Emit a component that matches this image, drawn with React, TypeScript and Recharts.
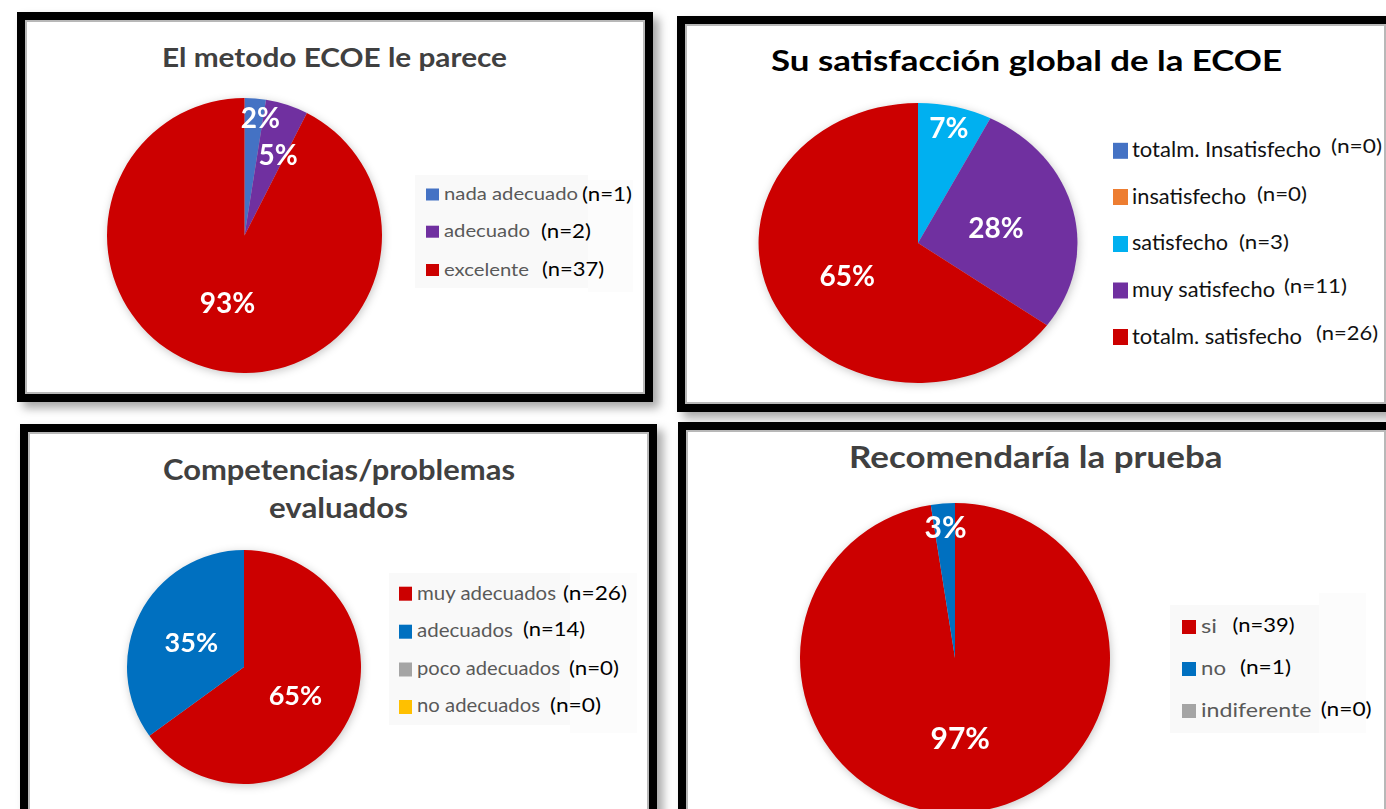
import React from 'react';
import { PieChart, Pie, Cell } from 'recharts';

// ---------- DATA ----------
// Panel 1: El metodo ECOE le parece
const metodoCategories = ['nada adecuado', 'adecuado', 'excelente'];
const metodoCounts = [1, 2, 37];
const metodoPercentLabels = ['2%', '5%', '93%'];
const metodoColors = ['#4472C4', '#7030A0', '#CC0000'];

// Panel 2: Su satisfacción global de la ECOE
const satisfaccionCategories = ['totalm. Insatisfecho', 'insatisfecho', 'satisfecho', 'muy satisfecho', 'totalm. satisfecho'];
const satisfaccionCounts = [0, 0, 3, 11, 26];
const satisfaccionPercentLabels = ['', '', '7%', '28%', '65%'];
const satisfaccionColors = ['#4472C4', '#ED7D31', '#00B0F0', '#7030A0', '#CC0000'];

// Panel 3: Competencias/problemas evaluados
const competenciasCategories = ['muy adecuados', 'adecuados', 'poco adecuados', 'no adecuados'];
const competenciasCounts = [26, 14, 0, 0];
const competenciasPercentLabels = ['65%', '35%', '', ''];
const competenciasColors = ['#CC0000', '#0070C0', '#A5A5A5', '#FFC000'];

// Panel 4: Recomendaría la prueba
const recomendariaCategories = ['si', 'no', 'indiferente'];
const recomendariaCounts = [39, 1, 0];
const recomendariaPercentLabels = ['97%', '3%', ''];
const recomendariaColors = ['#CC0000', '#0070C0', '#A5A5A5'];

// ---------- LAYOUT / STYLE ----------
const FONT = 'Lato, "Open Sans", "DejaVu Sans", sans-serif';

const panels = [
  {
    key: 'metodo',
    categories: metodoCategories,
    counts: metodoCounts,
    labels: metodoPercentLabels,
    colors: metodoColors,
    frame: { left: 17, top: 12, width: 636, height: 390 },
    pie: { cx: 244, cy: 235.5, r: 137.5, sx: 1 },
    labelFont: 28,
    labelFrac: [0.86, 0.634, 0.506],
    labelTurn: [3.25, 4.6, 0.6],
    titleColor: '#404040',
    title: [{ text: 'El metodo ECOE le parece', x: 162, y: 67, size: 26.5, width: 345 }],
    legend: {
      squareX: 426, squareW: 13, squareH: 12, squareCy: [194.5, 231.7, 270],
      labelX: 444, labelBase: [200, 237.3, 275.7], labelW: [134, 86, 85], labelSize: 18, labelColor: '#595959',
      nX: [582, 541, 542], nW: [50, 50, 62], nBase: [200.5, 237.5, 276], nSize: 19, nColor: '#000',
      bg: [
        { x: 415, y: 175, w: 173, h: 113, fill: '#f9f9f9' },
        { x: 588, y: 180, w: 45, h: 112, fill: '#fcfcfc' },
      ],
    },
  },
  {
    key: 'satisfaccion',
    categories: satisfaccionCategories,
    counts: satisfaccionCounts,
    labels: satisfaccionPercentLabels,
    colors: satisfaccionColors,
    frame: { left: 677, top: 16, width: 717, height: 396 },
    pie: { cx: 917.5, cy: 243, r: 140, sx: 1.139 },
    labelFont: 28,
    labelFrac: [0.5, 0.5, 0.844, 0.5, 0.503],
    labelTurn: [0, 0, -0.2, 1.2, -1],
    titleColor: '#000',
    title: [{ text: 'Su satisfacción global de la ECOE', x: 771, y: 70.5, size: 29, width: 511 }],
    legend: {
      squareX: 1113, squareW: 15, squareH: 16, squareCy: [150.8, 197, 244, 290.5, 337],
      labelX: 1132, labelBase: [157.3, 204, 250, 297.3, 344], labelW: [189, 114, 96, 143, 170], labelSize: 21, labelColor: '#111',
      nX: [1331, 1257, 1239, 1284, 1316], nW: [51, 50, 50, 63, 62], nBase: [153, 200.5, 249, 293, 339.5], nSize: 19, nColor: '#111',
      bg: [],
    },
  },
  {
    key: 'competencias',
    categories: competenciasCategories,
    counts: competenciasCounts,
    labels: competenciasPercentLabels,
    colors: competenciasColors,
    frame: { left: 20, top: 424, width: 637, height: 420 },
    pie: { cx: 243.5, cy: 667, r: 117, sx: 1 },
    labelFont: 27,
    labelFrac: [0.5, 0.496, 0.5, 0.5],
    labelTurn: [1.5, -2.2, 0, 0],
    titleColor: '#404040',
    title: [
      { text: 'Competencias/problemas', x: 163, y: 480, size: 28, width: 352 },
      { text: 'evaluados', x: 269, y: 518.3, size: 28, width: 139 },
    ],
    legend: {
      squareX: 399, squareW: 13, squareH: 14, squareCy: [593.7, 631.7, 669.5, 707],
      labelX: 417, labelBase: [600, 637.3, 675, 712.3], labelW: [139, 96, 143, 123], labelSize: 19, labelColor: '#595959',
      nX: [563, 523, 569, 550], nW: [64, 62, 50, 51], nBase: [599.5, 636, 674.5, 712], nSize: 19.5, nColor: '#000',
      bg: [
        { x: 389, y: 573, w: 181, h: 152, fill: '#f9f9f9' },
        { x: 570, y: 573, w: 67, h: 160, fill: '#fcfcfc' },
      ],
    },
  },
  {
    key: 'recomendaria',
    categories: recomendariaCategories,
    counts: recomendariaCounts,
    labels: recomendariaPercentLabels,
    colors: recomendariaColors,
    frame: { left: 678, top: 422, width: 716, height: 420 },
    pie: { cx: 955.4, cy: 658, r: 155, sx: 1 },
    labelFont: 30,
    labelFrac: [0.517, 0.847, 0.5],
    labelTurn: [0.8, 0.4, 0],
    titleColor: '#404040',
    title: [{ text: 'Recomendaría la prueba', x: 849, y: 468, size: 30, width: 373.5 }],
    legend: {
      squareX: 1182, squareW: 14, squareH: 14, squareCy: [627, 669, 711],
      labelX: 1201, labelBase: [633.3, 675, 717.3], labelW: [16, 25, 110.5], labelSize: 20, labelColor: '#595959',
      nX: [1232.5, 1240, 1320.7], nW: [62, 51, 51], nBase: [632, 674, 716], nSize: 20, nColor: '#000',
      bg: [
        { x: 1170, y: 605, w: 149, h: 128, fill: '#f9f9f9' },
        { x: 1319, y: 593, w: 47, h: 140, fill: '#fcfcfc' },
      ],
    },
  },
];

type PanelCfg = typeof panels[number];

function Frame({ f }: { f: PanelCfg['frame'] }) {
  return (
    <div
      style={{
        position: 'absolute',
        left: f.left,
        top: f.top,
        width: f.width,
        height: f.height,
        boxSizing: 'border-box',
        border: '8px solid #000',
        background: '#fff',
        boxShadow: 'inset 0 0 0 2px #b8b8b8, 6px 6px 9px rgba(0,0,0,0.35)',
      }}
    />
  );
}

function PieBlock({ p }: { p: PanelCfg }) {
  const data = p.categories.map((name, i) => ({ name, value: p.counts[i] }));
  const pad = 14;
  const R = p.pie.r;
  const W = Math.ceil(2 * (R + pad));
  const sx = p.pie.sx;
  const renderLabel = (props: any) => {
    const { cx, cy, midAngle, outerRadius, index } = props;
    const text = p.labels[index];
    if (!text) return null;
    const theta = ((90 - midAngle + p.labelTurn[index]) * Math.PI) / 180;
    const rr = outerRadius * p.labelFrac[index];
    const x = cx + rr * Math.sin(theta);
    const y = cy - rr * Math.cos(theta);
    return (
      <text
        key={`lbl-${index}`}
        transform={`translate(${x} ${y}) scale(${1 / sx} 1)`}
        x={0}
        y={0.36 * p.labelFont}
        textAnchor="middle"
        fill="#fff"
        fontWeight={700}
        fontSize={p.labelFont}
        fontFamily={FONT}
      >
        {text}
      </text>
    );
  };
  return (
    <div
      style={{
        position: 'absolute',
        left: p.pie.cx - W / 2,
        top: p.pie.cy - W / 2,
        width: W,
        height: W,
        transform: `scaleX(${sx})`,
        transformOrigin: '50% 50%',
        filter: 'drop-shadow(1px 2px 4px rgba(0,0,0,0.22))',
      }}
    >
      <PieChart width={W} height={W} margin={{ top: 0, right: 0, bottom: 0, left: 0 }}>
        <Pie
          data={data}
          dataKey="value"
          nameKey="name"
          cx={W / 2}
          cy={W / 2}
          innerRadius={0}
          outerRadius={R}
          startAngle={90}
          endAngle={-270}
          stroke="none"
          isAnimationActive={false}
          label={renderLabel}
          labelLine={false}
        >
          {data.map((d, i) => (
            <Cell key={`c-${i}`} fill={p.colors[i]} />
          ))}
        </Pie>
      </PieChart>
    </div>
  );
}

function TextLayer() {
  return (
    <svg width={1386} height={809} style={{ position: 'absolute', left: 0, top: 0 }}>
      {panels.map((p) => (
        <g key={`t-${p.key}`}>
          {p.legend.bg.map((b, i) => (
            <rect key={`bg-${i}`} x={b.x} y={b.y} width={b.w} height={b.h} fill={b.fill} />
          ))}
          {p.title.map((t, i) => (
            <text
              key={`title-${i}`}
              x={t.x}
              y={t.y}
              fontSize={t.size}
              fontWeight={700}
              fontFamily={FONT}
              fill={p.titleColor}
              textLength={t.width}
              lengthAdjust="spacingAndGlyphs"
            >
              {t.text}
            </text>
          ))}
          {p.categories.map((name, i) => {
            const L = p.legend;
            return (
              <g key={`leg-${i}`}>
                <rect
                  x={L.squareX}
                  y={L.squareCy[i] - L.squareH / 2}
                  width={L.squareW}
                  height={L.squareH}
                  fill={p.colors[i]}
                />
                <text
                  x={L.labelX}
                  y={L.labelBase[i]}
                  fontSize={L.labelSize}
                  fontFamily={FONT}
                  fill={L.labelColor}
                  textLength={L.labelW[i]}
                  lengthAdjust="spacingAndGlyphs"
                >
                  {name}
                </text>
                <text
                  x={L.nX[i]}
                  y={L.nBase[i]}
                  fontSize={L.nSize}
                  fontFamily={FONT}
                  fill={L.nColor}
                  textLength={L.nW[i]}
                  lengthAdjust="spacingAndGlyphs"
                >
                  {`(n=${p.counts[i]})`}
                </text>
              </g>
            );
          })}
        </g>
      ))}
    </svg>
  );
}

export default function App() {
  return (
    <div
      style={{
        position: 'absolute',
        left: 0,
        top: 0,
        width: 1386,
        height: 809,
        overflow: 'hidden',
        background: '#fff',
        fontFamily: FONT,
      }}
    >
      {panels.map((p) => (
        <Frame key={`f-${p.key}`} f={p.frame} />
      ))}
      {panels.map((p) => (
        <PieBlock key={`p-${p.key}`} p={p} />
      ))}
      <TextLayer />
    </div>
  );
}
